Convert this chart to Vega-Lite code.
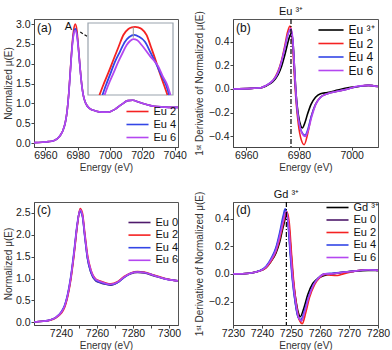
{
"$schema": "https://vega.github.io/schema/vega-lite/v6.json",
"background": "white",
"padding": {"left": 2, "top": 5, "right": 4, "bottom": 2},
"bounds": "flush",
"columns": 2,
"spacing": {"row": 55, "column": 55},
"resolve": {"scale": {"color": "independent"}, "legend": {"color": "independent"}},
"config": {
  "font": "Liberation Sans",
  "view": {"stroke": "#555", "strokeWidth": 1},
  "axis": {"grid": false, "labelFontSize": 10.5, "titleFontSize": 10, "labelColor": "#1a1a1a", "titleColor": "#333", "tickSize": 3, "domainColor": "#444", "tickColor": "#444", "titleFontWeight": "normal", "labelPadding": 1, "titlePadding": 3, "labelOverlap": false, "labelFlush": false},
  "axisX": {"labelPadding": 0, "titlePadding": 1.5},
  "legend": {"symbolType": "M-3,0H3", "symbolStrokeWidth": 2, "labelFontSize": 11, "labelColor": "#111", "padding": 0, "labelOffset": 10.5, "rowPadding": 1, "symbolSize": 54, "orient": "none"},
  "line": {"strokeWidth": 1.6, "interpolate": "monotone"},
  "text": {"font": "Liberation Sans"}
},
"datasets": {
  "a": [
    {"s":"Eu 2","E":6953,"v":0.01},{"s":"Eu 2","E":6958,"v":0.02},{"s":"Eu 2","E":6962,"v":0.035},{"s":"Eu 2","E":6965,"v":0.06},{"s":"Eu 2","E":6967.5,"v":0.11},{"s":"Eu 2","E":6969.5,"v":0.21},{"s":"Eu 2","E":6971,"v":0.33},{"s":"Eu 2","E":6972.5,"v":0.55},{"s":"Eu 2","E":6973.5,"v":0.82},{"s":"Eu 2","E":6974.5,"v":1.27},{"s":"Eu 2","E":6975.5,"v":1.86},{"s":"Eu 2","E":6976.5,"v":2.45},{"s":"Eu 2","E":6977.5,"v":2.85},{"s":"Eu 2","E":6978.5,"v":3.0},{"s":"Eu 2","E":6979.5,"v":2.85},{"s":"Eu 2","E":6980.5,"v":2.4},{"s":"Eu 2","E":6981.5,"v":1.9},{"s":"Eu 2","E":6982.5,"v":1.48},{"s":"Eu 2","E":6983.5,"v":1.2},{"s":"Eu 2","E":6985,"v":1.0},{"s":"Eu 2","E":6987.5,"v":0.87},{"s":"Eu 2","E":6991,"v":0.81},{"s":"Eu 2","E":6995,"v":0.78},{"s":"Eu 2","E":6999,"v":0.78},{"s":"Eu 2","E":7003,"v":0.85},{"s":"Eu 2","E":7007,"v":0.97},{"s":"Eu 2","E":7011,"v":1.07},{"s":"Eu 2","E":7014,"v":1.08},{"s":"Eu 2","E":7018,"v":1.03},{"s":"Eu 2","E":7022,"v":0.98},{"s":"Eu 2","E":7027,"v":0.93},{"s":"Eu 2","E":7033,"v":0.91},{"s":"Eu 2","E":7038,"v":0.9},{"s":"Eu 2","E":7042,"v":0.9},
    {"s":"Eu 4","E":6953,"v":0.01},{"s":"Eu 4","E":6958,"v":0.02},{"s":"Eu 4","E":6962,"v":0.035},{"s":"Eu 4","E":6965,"v":0.06},{"s":"Eu 4","E":6967.5,"v":0.11},{"s":"Eu 4","E":6969.5,"v":0.21},{"s":"Eu 4","E":6971,"v":0.33},{"s":"Eu 4","E":6972.5,"v":0.55},{"s":"Eu 4","E":6973.5,"v":0.82},{"s":"Eu 4","E":6974.5,"v":1.25},{"s":"Eu 4","E":6975.5,"v":1.83},{"s":"Eu 4","E":6976.5,"v":2.4},{"s":"Eu 4","E":6977.5,"v":2.76},{"s":"Eu 4","E":6978.5,"v":2.88},{"s":"Eu 4","E":6979.5,"v":2.75},{"s":"Eu 4","E":6980.5,"v":2.36},{"s":"Eu 4","E":6981.5,"v":1.88},{"s":"Eu 4","E":6982.5,"v":1.47},{"s":"Eu 4","E":6983.5,"v":1.2},{"s":"Eu 4","E":6985,"v":1.0},{"s":"Eu 4","E":6987.5,"v":0.87},{"s":"Eu 4","E":6991,"v":0.81},{"s":"Eu 4","E":6995,"v":0.78},{"s":"Eu 4","E":6999,"v":0.78},{"s":"Eu 4","E":7003,"v":0.85},{"s":"Eu 4","E":7007,"v":0.97},{"s":"Eu 4","E":7011,"v":1.07},{"s":"Eu 4","E":7014,"v":1.08},{"s":"Eu 4","E":7018,"v":1.03},{"s":"Eu 4","E":7022,"v":0.98},{"s":"Eu 4","E":7027,"v":0.93},{"s":"Eu 4","E":7033,"v":0.91},{"s":"Eu 4","E":7038,"v":0.9},{"s":"Eu 4","E":7042,"v":0.9},
    {"s":"Eu 6","E":6953,"v":0.01},{"s":"Eu 6","E":6958,"v":0.02},{"s":"Eu 6","E":6962,"v":0.035},{"s":"Eu 6","E":6965,"v":0.06},{"s":"Eu 6","E":6967.5,"v":0.11},{"s":"Eu 6","E":6969.5,"v":0.21},{"s":"Eu 6","E":6971,"v":0.33},{"s":"Eu 6","E":6972.5,"v":0.55},{"s":"Eu 6","E":6973.5,"v":0.82},{"s":"Eu 6","E":6974.5,"v":1.24},{"s":"Eu 6","E":6975.5,"v":1.82},{"s":"Eu 6","E":6976.5,"v":2.38},{"s":"Eu 6","E":6977.5,"v":2.73},{"s":"Eu 6","E":6978.5,"v":2.84},{"s":"Eu 6","E":6979.5,"v":2.72},{"s":"Eu 6","E":6980.5,"v":2.35},{"s":"Eu 6","E":6981.5,"v":1.88},{"s":"Eu 6","E":6982.5,"v":1.47},{"s":"Eu 6","E":6983.5,"v":1.2},{"s":"Eu 6","E":6985,"v":1.0},{"s":"Eu 6","E":6987.5,"v":0.87},{"s":"Eu 6","E":6991,"v":0.81},{"s":"Eu 6","E":6995,"v":0.78},{"s":"Eu 6","E":6999,"v":0.78},{"s":"Eu 6","E":7003,"v":0.85},{"s":"Eu 6","E":7007,"v":0.97},{"s":"Eu 6","E":7011,"v":1.07},{"s":"Eu 6","E":7014,"v":1.08},{"s":"Eu 6","E":7018,"v":1.03},{"s":"Eu 6","E":7022,"v":0.98},{"s":"Eu 6","E":7027,"v":0.93},{"s":"Eu 6","E":7033,"v":0.91},{"s":"Eu 6","E":7038,"v":0.9},{"s":"Eu 6","E":7042,"v":0.9}
  ],
  "inset": [
    {"s":"Eu 2","ix":13.5,"iy":0},{"s":"Eu 2","ix":18,"iy":13.9},{"s":"Eu 2","ix":24,"iy":31},{"s":"Eu 2","ix":29.8,"iy":48.6},{"s":"Eu 2","ix":36,"iy":67},{"s":"Eu 2","ix":41.6,"iy":83.3},{"s":"Eu 2","ix":47.5,"iy":91.7},{"s":"Eu 2","ix":51.5,"iy":94},{"s":"Eu 2","ix":55.3,"iy":94.6},{"s":"Eu 2","ix":59,"iy":94},{"s":"Eu 2","ix":63.1,"iy":91.7},{"s":"Eu 2","ix":69,"iy":83.3},{"s":"Eu 2","ix":74,"iy":67},{"s":"Eu 2","ix":78.8,"iy":50.9},{"s":"Eu 2","ix":84,"iy":32},{"s":"Eu 2","ix":89.4,"iy":13.9},{"s":"Eu 2","ix":93.5,"iy":0},
    {"s":"Eu 4","ix":17,"iy":0},{"s":"Eu 4","ix":21.2,"iy":13.9},{"s":"Eu 4","ix":26.5,"iy":30},{"s":"Eu 4","ix":31.8,"iy":46.3},{"s":"Eu 4","ix":37.5,"iy":60},{"s":"Eu 4","ix":43.5,"iy":74},{"s":"Eu 4","ix":48.5,"iy":80.5},{"s":"Eu 4","ix":54.5,"iy":83.5},{"s":"Eu 4","ix":60,"iy":81},{"s":"Eu 4","ix":67,"iy":74},{"s":"Eu 4","ix":74,"iy":58},{"s":"Eu 4","ix":80.8,"iy":41.7},{"s":"Eu 4","ix":86,"iy":28},{"s":"Eu 4","ix":91.8,"iy":13.9},{"s":"Eu 4","ix":95.5,"iy":0},
    {"s":"Eu 6","ix":19.5,"iy":0},{"s":"Eu 6","ix":23.9,"iy":13.9},{"s":"Eu 6","ix":29.8,"iy":30},{"s":"Eu 6","ix":35.7,"iy":46.3},{"s":"Eu 6","ix":40.5,"iy":58},{"s":"Eu 6","ix":45.5,"iy":69.4},{"s":"Eu 6","ix":49.5,"iy":75},{"s":"Eu 6","ix":53.3,"iy":77.5},{"s":"Eu 6","ix":58,"iy":76},{"s":"Eu 6","ix":63.1,"iy":69.4},{"s":"Eu 6","ix":73,"iy":54},{"s":"Eu 6","ix":82.8,"iy":39.4},{"s":"Eu 6","ix":88,"iy":26},{"s":"Eu 6","ix":93.3,"iy":13.9},{"s":"Eu 6","ix":97,"iy":0}
  ],
  "b": [
    {"s":"Eu ³⁺","E":6955,"v":0},{"s":"Eu ³⁺","E":6962,"v":0.005},{"s":"Eu ³⁺","E":6965.6,"v":0.01},{"s":"Eu ³⁺","E":6967.6,"v":0.025},{"s":"Eu ³⁺","E":6970.1,"v":0.06},{"s":"Eu ³⁺","E":6972.1,"v":0.12},{"s":"Eu ³⁺","E":6973.4,"v":0.19},{"s":"Eu ³⁺","E":6974.7,"v":0.29},{"s":"Eu ³⁺","E":6975.7,"v":0.38},{"s":"Eu ³⁺","E":6976.6,"v":0.45},{"s":"Eu ³⁺","E":6977.2,"v":0.47},{"s":"Eu ³⁺","E":6977.8,"v":0.38},{"s":"Eu ³⁺","E":6978.4,"v":0.15},{"s":"Eu ³⁺","E":6979,"v":-0.06},{"s":"Eu ³⁺","E":6979.8,"v":-0.22},{"s":"Eu ³⁺","E":6980.7,"v":-0.31},{"s":"Eu ³⁺","E":6981.3,"v":-0.33},{"s":"Eu ³⁺","E":6982.2,"v":-0.29},{"s":"Eu ³⁺","E":6983.3,"v":-0.21},{"s":"Eu ³⁺","E":6984.6,"v":-0.13},{"s":"Eu ³⁺","E":6986.3,"v":-0.07},{"s":"Eu ³⁺","E":6988.2,"v":-0.04},{"s":"Eu ³⁺","E":6990.8,"v":-0.03},{"s":"Eu ³⁺","E":6994.7,"v":-0.01},{"s":"Eu ³⁺","E":6998.6,"v":0.01},{"s":"Eu ³⁺","E":7002.5,"v":0.02},{"s":"Eu ³⁺","E":7006.3,"v":0.03},{"s":"Eu ³⁺","E":7010,"v":0.02},
    {"s":"Eu 2","E":6955,"v":0},{"s":"Eu 2","E":6962,"v":0.005},{"s":"Eu 2","E":6965.6,"v":0.01},{"s":"Eu 2","E":6967.6,"v":0.03},{"s":"Eu 2","E":6970.1,"v":0.07},{"s":"Eu 2","E":6972.1,"v":0.15},{"s":"Eu 2","E":6973.4,"v":0.24},{"s":"Eu 2","E":6974.7,"v":0.37},{"s":"Eu 2","E":6975.7,"v":0.48},{"s":"Eu 2","E":6976.6,"v":0.53},{"s":"Eu 2","E":6977.3,"v":0.46},{"s":"Eu 2","E":6977.8,"v":0.3},{"s":"Eu 2","E":6978.3,"v":0.1},{"s":"Eu 2","E":6978.9,"v":-0.1},{"s":"Eu 2","E":6979.8,"v":-0.3},{"s":"Eu 2","E":6980.9,"v":-0.43},{"s":"Eu 2","E":6982,"v":-0.47},{"s":"Eu 2","E":6983.3,"v":-0.38},{"s":"Eu 2","E":6984.6,"v":-0.24},{"s":"Eu 2","E":6986.3,"v":-0.13},{"s":"Eu 2","E":6988.2,"v":-0.07},{"s":"Eu 2","E":6990.8,"v":-0.04},{"s":"Eu 2","E":6994.7,"v":-0.02},{"s":"Eu 2","E":6998.6,"v":0},{"s":"Eu 2","E":7002.5,"v":0.02},{"s":"Eu 2","E":7006.3,"v":0.03},{"s":"Eu 2","E":7010,"v":0.02},
    {"s":"Eu 4","E":6955,"v":0},{"s":"Eu 4","E":6962,"v":0.005},{"s":"Eu 4","E":6965.6,"v":0.01},{"s":"Eu 4","E":6967.6,"v":0.03},{"s":"Eu 4","E":6970.1,"v":0.07},{"s":"Eu 4","E":6972.1,"v":0.14},{"s":"Eu 4","E":6973.4,"v":0.23},{"s":"Eu 4","E":6974.7,"v":0.35},{"s":"Eu 4","E":6975.7,"v":0.45},{"s":"Eu 4","E":6976.8,"v":0.5},{"s":"Eu 4","E":6977.5,"v":0.44},{"s":"Eu 4","E":6978,"v":0.28},{"s":"Eu 4","E":6978.5,"v":0.08},{"s":"Eu 4","E":6979.1,"v":-0.12},{"s":"Eu 4","E":6980,"v":-0.28},{"s":"Eu 4","E":6981,"v":-0.36},{"s":"Eu 4","E":6982.3,"v":-0.39},{"s":"Eu 4","E":6983.4,"v":-0.34},{"s":"Eu 4","E":6984.7,"v":-0.23},{"s":"Eu 4","E":6986.3,"v":-0.13},{"s":"Eu 4","E":6988.2,"v":-0.07},{"s":"Eu 4","E":6990.8,"v":-0.04},{"s":"Eu 4","E":6994.7,"v":-0.02},{"s":"Eu 4","E":6998.6,"v":0},{"s":"Eu 4","E":7002.5,"v":0.02},{"s":"Eu 4","E":7006.3,"v":0.03},{"s":"Eu 4","E":7010,"v":0.02},
    {"s":"Eu 6","E":6955,"v":0},{"s":"Eu 6","E":6962,"v":0.005},{"s":"Eu 6","E":6965.6,"v":0.01},{"s":"Eu 6","E":6967.6,"v":0.03},{"s":"Eu 6","E":6970.1,"v":0.07},{"s":"Eu 6","E":6972.1,"v":0.14},{"s":"Eu 6","E":6973.4,"v":0.23},{"s":"Eu 6","E":6974.7,"v":0.35},{"s":"Eu 6","E":6975.7,"v":0.45},{"s":"Eu 6","E":6976.9,"v":0.51},{"s":"Eu 6","E":6977.6,"v":0.44},{"s":"Eu 6","E":6978.1,"v":0.27},{"s":"Eu 6","E":6978.6,"v":0.07},{"s":"Eu 6","E":6979.2,"v":-0.13},{"s":"Eu 6","E":6980.1,"v":-0.29},{"s":"Eu 6","E":6981.1,"v":-0.37},{"s":"Eu 6","E":6982.4,"v":-0.4},{"s":"Eu 6","E":6983.5,"v":-0.35},{"s":"Eu 6","E":6984.8,"v":-0.24},{"s":"Eu 6","E":6986.4,"v":-0.13},{"s":"Eu 6","E":6988.3,"v":-0.07},{"s":"Eu 6","E":6990.8,"v":-0.04},{"s":"Eu 6","E":6994.7,"v":-0.02},{"s":"Eu 6","E":6998.6,"v":0},{"s":"Eu 6","E":7002.5,"v":0.025},{"s":"Eu 6","E":7006.3,"v":0.03},{"s":"Eu 6","E":7010,"v":0.02}
  ],
  "c": [
    {"s":"Eu 0","E":7225,"v":0.01},{"s":"Eu 0","E":7230,"v":0.025},{"s":"Eu 0","E":7234,"v":0.055},{"s":"Eu 0","E":7237,"v":0.11},{"s":"Eu 0","E":7240,"v":0.22},{"s":"Eu 0","E":7242,"v":0.37},{"s":"Eu 0","E":7243.5,"v":0.58},{"s":"Eu 0","E":7245.4,"v":1.0},{"s":"Eu 0","E":7247.3,"v":1.6},{"s":"Eu 0","E":7249.1,"v":2.24},{"s":"Eu 0","E":7250.6,"v":2.56},{"s":"Eu 0","E":7251.9,"v":2.44},{"s":"Eu 0","E":7253.2,"v":1.98},{"s":"Eu 0","E":7254.7,"v":1.47},{"s":"Eu 0","E":7256.6,"v":1.14},{"s":"Eu 0","E":7259.3,"v":0.95},{"s":"Eu 0","E":7262.1,"v":0.9},{"s":"Eu 0","E":7264.9,"v":0.87},{"s":"Eu 0","E":7267.7,"v":0.85},{"s":"Eu 0","E":7271.4,"v":0.91},{"s":"Eu 0","E":7275.1,"v":1.03},{"s":"Eu 0","E":7278.8,"v":1.11},{"s":"Eu 0","E":7282.5,"v":1.14},{"s":"Eu 0","E":7286.2,"v":1.13},{"s":"Eu 0","E":7291.7,"v":1.06},{"s":"Eu 0","E":7297.3,"v":1.0},{"s":"Eu 0","E":7302.9,"v":0.96},{"s":"Eu 0","E":7305,"v":0.95},
    {"s":"Eu 2","E":7225,"v":0.01},{"s":"Eu 2","E":7230,"v":0.025},{"s":"Eu 2","E":7234,"v":0.05},{"s":"Eu 2","E":7237,"v":0.1},{"s":"Eu 2","E":7240,"v":0.2},{"s":"Eu 2","E":7242,"v":0.34},{"s":"Eu 2","E":7243.5,"v":0.55},{"s":"Eu 2","E":7245.4,"v":0.96},{"s":"Eu 2","E":7247.3,"v":1.56},{"s":"Eu 2","E":7249.1,"v":2.22},{"s":"Eu 2","E":7250.6,"v":2.6},{"s":"Eu 2","E":7251.9,"v":2.5},{"s":"Eu 2","E":7253.2,"v":2.05},{"s":"Eu 2","E":7254.7,"v":1.55},{"s":"Eu 2","E":7256.6,"v":1.2},{"s":"Eu 2","E":7259.3,"v":0.99},{"s":"Eu 2","E":7262.1,"v":0.94},{"s":"Eu 2","E":7264.9,"v":0.9},{"s":"Eu 2","E":7267.7,"v":0.88},{"s":"Eu 2","E":7271.4,"v":0.93},{"s":"Eu 2","E":7275.1,"v":1.05},{"s":"Eu 2","E":7278.8,"v":1.13},{"s":"Eu 2","E":7282.5,"v":1.16},{"s":"Eu 2","E":7286.2,"v":1.15},{"s":"Eu 2","E":7291.7,"v":1.08},{"s":"Eu 2","E":7297.3,"v":1.01},{"s":"Eu 2","E":7302.9,"v":0.96},{"s":"Eu 2","E":7305,"v":0.95},
    {"s":"Eu 4","E":7225,"v":0.01},{"s":"Eu 4","E":7230,"v":0.025},{"s":"Eu 4","E":7234,"v":0.055},{"s":"Eu 4","E":7237,"v":0.11},{"s":"Eu 4","E":7240,"v":0.23},{"s":"Eu 4","E":7242,"v":0.39},{"s":"Eu 4","E":7243.5,"v":0.61},{"s":"Eu 4","E":7245.4,"v":1.04},{"s":"Eu 4","E":7247.3,"v":1.65},{"s":"Eu 4","E":7249.1,"v":2.28},{"s":"Eu 4","E":7250.4,"v":2.54},{"s":"Eu 4","E":7251.9,"v":2.42},{"s":"Eu 4","E":7253.2,"v":1.96},{"s":"Eu 4","E":7254.7,"v":1.46},{"s":"Eu 4","E":7256.6,"v":1.15},{"s":"Eu 4","E":7259.3,"v":0.96},{"s":"Eu 4","E":7262.1,"v":0.91},{"s":"Eu 4","E":7264.9,"v":0.88},{"s":"Eu 4","E":7267.7,"v":0.86},{"s":"Eu 4","E":7271.4,"v":0.91},{"s":"Eu 4","E":7275.1,"v":1.03},{"s":"Eu 4","E":7278.8,"v":1.12},{"s":"Eu 4","E":7282.5,"v":1.15},{"s":"Eu 4","E":7286.2,"v":1.14},{"s":"Eu 4","E":7291.7,"v":1.07},{"s":"Eu 4","E":7297.3,"v":1.0},{"s":"Eu 4","E":7302.9,"v":0.96},{"s":"Eu 4","E":7305,"v":0.95},
    {"s":"Eu 6","E":7225,"v":0.01},{"s":"Eu 6","E":7230,"v":0.025},{"s":"Eu 6","E":7234,"v":0.055},{"s":"Eu 6","E":7237,"v":0.11},{"s":"Eu 6","E":7240,"v":0.22},{"s":"Eu 6","E":7242,"v":0.37},{"s":"Eu 6","E":7243.5,"v":0.58},{"s":"Eu 6","E":7245.4,"v":1.0},{"s":"Eu 6","E":7247.3,"v":1.6},{"s":"Eu 6","E":7249.1,"v":2.25},{"s":"Eu 6","E":7250.6,"v":2.57},{"s":"Eu 6","E":7251.9,"v":2.46},{"s":"Eu 6","E":7253.2,"v":2.01},{"s":"Eu 6","E":7254.7,"v":1.52},{"s":"Eu 6","E":7256.6,"v":1.19},{"s":"Eu 6","E":7259.3,"v":0.98},{"s":"Eu 6","E":7262.1,"v":0.93},{"s":"Eu 6","E":7264.9,"v":0.89},{"s":"Eu 6","E":7267.7,"v":0.87},{"s":"Eu 6","E":7271.4,"v":0.92},{"s":"Eu 6","E":7275.1,"v":1.04},{"s":"Eu 6","E":7278.8,"v":1.12},{"s":"Eu 6","E":7282.5,"v":1.15},{"s":"Eu 6","E":7286.2,"v":1.14},{"s":"Eu 6","E":7291.7,"v":1.07},{"s":"Eu 6","E":7297.3,"v":1.0},{"s":"Eu 6","E":7302.9,"v":0.96},{"s":"Eu 6","E":7305,"v":0.95}
  ],
  "d": [
    {"s":"Gd ³⁺","E":7230,"v":0},{"s":"Gd ³⁺","E":7235.7,"v":0.005},{"s":"Gd ³⁺","E":7239.1,"v":0.02},{"s":"Gd ³⁺","E":7241.4,"v":0.045},{"s":"Gd ³⁺","E":7243.1,"v":0.09},{"s":"Gd ³⁺","E":7244.8,"v":0.15},{"s":"Gd ³⁺","E":7246.1,"v":0.23},{"s":"Gd ³⁺","E":7247.3,"v":0.34},{"s":"Gd ³⁺","E":7248.5,"v":0.42},{"s":"Gd ³⁺","E":7249.3,"v":0.34},{"s":"Gd ³⁺","E":7250.1,"v":0.13},{"s":"Gd ³⁺","E":7250.8,"v":-0.05},{"s":"Gd ³⁺","E":7251.6,"v":-0.18},{"s":"Gd ³⁺","E":7252.5,"v":-0.28},{"s":"Gd ³⁺","E":7253.2,"v":-0.31},{"s":"Gd ³⁺","E":7254.4,"v":-0.25},{"s":"Gd ³⁺","E":7255.8,"v":-0.15},{"s":"Gd ³⁺","E":7257.5,"v":-0.07},{"s":"Gd ³⁺","E":7259.5,"v":-0.03},{"s":"Gd ³⁺","E":7261.8,"v":-0.01},{"s":"Gd ³⁺","E":7264.1,"v":0},{"s":"Gd ³⁺","E":7267.5,"v":0.01},{"s":"Gd ³⁺","E":7272,"v":0.02},{"s":"Gd ³⁺","E":7276.6,"v":0.025},{"s":"Gd ³⁺","E":7280,"v":0.025},
    {"s":"Eu 0","E":7230,"v":0},{"s":"Eu 0","E":7235.7,"v":0.005},{"s":"Eu 0","E":7239.1,"v":0.02},{"s":"Eu 0","E":7241.4,"v":0.05},{"s":"Eu 0","E":7243.1,"v":0.1},{"s":"Eu 0","E":7244.8,"v":0.18},{"s":"Eu 0","E":7246.1,"v":0.28},{"s":"Eu 0","E":7247.3,"v":0.4},{"s":"Eu 0","E":7248.1,"v":0.46},{"s":"Eu 0","E":7249,"v":0.37},{"s":"Eu 0","E":7249.8,"v":0.15},{"s":"Eu 0","E":7250.6,"v":-0.05},{"s":"Eu 0","E":7251.5,"v":-0.21},{"s":"Eu 0","E":7252.6,"v":-0.32},{"s":"Eu 0","E":7253.5,"v":-0.34},{"s":"Eu 0","E":7254.7,"v":-0.27},{"s":"Eu 0","E":7256.1,"v":-0.17},{"s":"Eu 0","E":7257.8,"v":-0.08},{"s":"Eu 0","E":7259.5,"v":-0.03},{"s":"Eu 0","E":7261.8,"v":0},{"s":"Eu 0","E":7264.1,"v":0},{"s":"Eu 0","E":7267.5,"v":0.01},{"s":"Eu 0","E":7272,"v":0.02},{"s":"Eu 0","E":7276.6,"v":0.03},{"s":"Eu 0","E":7280,"v":0.025},
    {"s":"Eu 2","E":7230,"v":0},{"s":"Eu 2","E":7235.7,"v":0.005},{"s":"Eu 2","E":7239.1,"v":0.02},{"s":"Eu 2","E":7241.4,"v":0.045},{"s":"Eu 2","E":7243.1,"v":0.09},{"s":"Eu 2","E":7244.8,"v":0.16},{"s":"Eu 2","E":7246.1,"v":0.25},{"s":"Eu 2","E":7247.3,"v":0.36},{"s":"Eu 2","E":7248.5,"v":0.45},{"s":"Eu 2","E":7249.4,"v":0.37},{"s":"Eu 2","E":7250.2,"v":0.14},{"s":"Eu 2","E":7251,"v":-0.07},{"s":"Eu 2","E":7251.9,"v":-0.23},{"s":"Eu 2","E":7253,"v":-0.34},{"s":"Eu 2","E":7253.9,"v":-0.36},{"s":"Eu 2","E":7255.1,"v":-0.28},{"s":"Eu 2","E":7256.4,"v":-0.17},{"s":"Eu 2","E":7258.1,"v":-0.08},{"s":"Eu 2","E":7259.8,"v":-0.03},{"s":"Eu 2","E":7262,"v":-0.005},{"s":"Eu 2","E":7264,"v":-0.01},{"s":"Eu 2","E":7266,"v":-0.012},{"s":"Eu 2","E":7268,"v":0},{"s":"Eu 2","E":7272,"v":0.02},{"s":"Eu 2","E":7276.6,"v":0.03},{"s":"Eu 2","E":7280,"v":0.025},
    {"s":"Eu 4","E":7230,"v":0},{"s":"Eu 4","E":7235.7,"v":0.005},{"s":"Eu 4","E":7239.1,"v":0.022},{"s":"Eu 4","E":7241.4,"v":0.055},{"s":"Eu 4","E":7243.1,"v":0.11},{"s":"Eu 4","E":7244.8,"v":0.19},{"s":"Eu 4","E":7246.1,"v":0.3},{"s":"Eu 4","E":7247.3,"v":0.42},{"s":"Eu 4","E":7248,"v":0.47},{"s":"Eu 4","E":7248.9,"v":0.38},{"s":"Eu 4","E":7249.7,"v":0.15},{"s":"Eu 4","E":7250.5,"v":-0.05},{"s":"Eu 4","E":7251.4,"v":-0.2},{"s":"Eu 4","E":7252.4,"v":-0.31},{"s":"Eu 4","E":7253.4,"v":-0.33},{"s":"Eu 4","E":7254.6,"v":-0.27},{"s":"Eu 4","E":7256,"v":-0.17},{"s":"Eu 4","E":7257.7,"v":-0.08},{"s":"Eu 4","E":7259.4,"v":-0.03},{"s":"Eu 4","E":7261.8,"v":0},{"s":"Eu 4","E":7264.1,"v":0.005},{"s":"Eu 4","E":7267.5,"v":0.012},{"s":"Eu 4","E":7272,"v":0.02},{"s":"Eu 4","E":7276.6,"v":0.03},{"s":"Eu 4","E":7280,"v":0.025},
    {"s":"Eu 6","E":7230,"v":0},{"s":"Eu 6","E":7235.7,"v":0.005},{"s":"Eu 6","E":7239.1,"v":0.02},{"s":"Eu 6","E":7241.4,"v":0.05},{"s":"Eu 6","E":7243.1,"v":0.1},{"s":"Eu 6","E":7244.8,"v":0.17},{"s":"Eu 6","E":7246.1,"v":0.27},{"s":"Eu 6","E":7247.3,"v":0.38},{"s":"Eu 6","E":7248.2,"v":0.45},{"s":"Eu 6","E":7249.1,"v":0.37},{"s":"Eu 6","E":7249.9,"v":0.15},{"s":"Eu 6","E":7250.7,"v":-0.05},{"s":"Eu 6","E":7251.6,"v":-0.2},{"s":"Eu 6","E":7252.7,"v":-0.32},{"s":"Eu 6","E":7253.6,"v":-0.34},{"s":"Eu 6","E":7254.8,"v":-0.27},{"s":"Eu 6","E":7256.1,"v":-0.17},{"s":"Eu 6","E":7257.8,"v":-0.08},{"s":"Eu 6","E":7259.5,"v":-0.03},{"s":"Eu 6","E":7261.8,"v":0},{"s":"Eu 6","E":7264.1,"v":0},{"s":"Eu 6","E":7267.5,"v":0.01},{"s":"Eu 6","E":7272,"v":0.02},{"s":"Eu 6","E":7276.6,"v":0.03},{"s":"Eu 6","E":7280,"v":0.025}
  ]
},
"concat": [
  {
    "width": 144, "height": 128,
    "layer": [
      {"layer": [
        {"data": {"name": "a"}, "mark": {"type": "line", "clip": true},
         "encoding": {
           "x": {"field": "E", "type": "quantitative", "scale": {"domain": [6953, 7042], "nice": false, "zero": false}, "axis": {"values": [6960, 6980, 7000, 7020, 7040], "tickCount": 20, "format": "d", "title": "Energy (eV)", "labelOverlap": false, "labelFlush": false}},
           "y": {"field": "v", "type": "quantitative", "scale": {"domain": [-0.1, 3.13], "nice": false, "zero": false}, "axis": {"values": [0, 0.5, 1, 1.5, 2, 2.5, 3], "tickCount": 20, "format": ".1f", "title": "Normalized μ(E)", "titlePadding": 2, "labelOverlap": false, "labelFlush": false}},
           "color": {"field": "s", "type": "nominal", "scale": {"domain": ["Eu 2", "Eu 4", "Eu 6"], "range": ["#f52222", "#3346e6", "#b447f0"]}, "legend": {"title": null, "legendX": 98, "legendY": 87}}
         }},
        {"data": {"values": [{"E": 6953, "v": 3.13, "t": "(a)"}]}, "mark": {"type": "text", "align": "left", "baseline": "top", "dx": 3, "dy": 4, "fontSize": 12, "color": "#111"},
         "encoding": {"x": {"field": "E", "type": "quantitative"}, "y": {"field": "v", "type": "quantitative"}, "text": {"field": "t"}}},
        {"data": {"values": [{"E": 6974.3, "v": 2.92, "t": "A"}]}, "mark": {"type": "text", "align": "center", "baseline": "middle", "fontSize": 11, "color": "#111"},
         "encoding": {"x": {"field": "E", "type": "quantitative"}, "y": {"field": "v", "type": "quantitative"}, "text": {"field": "t"}}},
        {"data": {"values": [{"E": 6981.6, "v": 2.8, "E2": 6995.8, "v2": 2.44}]}, "mark": {"type": "rule", "strokeDash": [3, 2], "strokeWidth": 1.2, "color": "#111"},
         "encoding": {"x": {"field": "E", "type": "quantitative"}, "y": {"field": "v", "type": "quantitative"}, "x2": {"field": "E2"}, "y2": {"field": "v2"}}},
        {"data": {"values": [{"E": 6996.4, "v": 2.42}]}, "mark": {"type": "point", "shape": "triangle-right", "angle": 33, "filled": true, "size": 35, "color": "#111", "opacity": 1},
         "encoding": {"x": {"field": "E", "type": "quantitative"}, "y": {"field": "v", "type": "quantitative"}}}
      ]},
      {"layer": [
        {"data": {"values": [{"ix": 0, "iy": 0, "ix2": 100, "iy2": 100}]}, "mark": {"type": "rect", "fill": "white", "stroke": "#9aa3ad", "strokeWidth": 1.2},
         "encoding": {
           "x": {"field": "ix", "type": "quantitative", "scale": {"domain": [0, 100], "range": [54, 139], "nice": false, "zero": false}, "axis": null},
           "y": {"field": "iy", "type": "quantitative", "scale": {"domain": [0, 100], "range": [76, 4], "nice": false, "zero": false}, "axis": null},
           "x2": {"field": "ix2"}, "y2": {"field": "iy2"}
         }},
        {"data": {"name": "inset"}, "mark": {"type": "line", "strokeWidth": 1.8},
         "encoding": {
           "x": {"field": "ix", "type": "quantitative"},
           "y": {"field": "iy", "type": "quantitative"},
           "color": {"field": "s", "type": "nominal", "scale": {"domain": ["Eu 2", "Eu 4", "Eu 6"], "range": ["#f52222", "#3346e6", "#b447f0"]}, "legend": {"title": null, "legendX": 98, "legendY": 87}}
         }},
        {"data": {"values": [{"ix": 53.3, "iy": 79.6, "iy2": 94.4}]}, "mark": {"type": "rule", "color": "#999", "strokeWidth": 1},
         "encoding": {"x": {"field": "ix", "type": "quantitative"}, "y": {"field": "iy", "type": "quantitative"}, "y2": {"field": "iy2"}}}
      ]}
    ],
    "resolve": {"scale": {"x": "independent", "y": "independent"}}
  },
  {
    "width": 145, "height": 128,
    "layer": [
      {"data": {"name": "b"}, "mark": {"type": "line", "clip": true},
       "encoding": {
         "x": {"field": "E", "type": "quantitative", "scale": {"domain": [6955, 7010], "nice": false, "zero": false}, "axis": {"values": [6960, 6980, 7000], "tickCount": 20, "format": "d", "title": "Energy (eV)", "labelOverlap": false, "labelFlush": false}},
         "y": {"field": "v", "type": "quantitative", "scale": {"domain": [-0.49, 0.59], "nice": false, "zero": false}, "axis": {"values": [-0.4, -0.2, 0, 0.2, 0.4], "tickCount": 20, "format": ".1f", "title": "1ˢᵗ Derivative of Normalized μ(E)", "titlePadding": 4, "labelOverlap": false, "labelFlush": false}},
         "color": {"field": "s", "type": "nominal", "scale": {"domain": ["Eu ³⁺", "Eu 2", "Eu 4", "Eu 6"], "range": ["#000000", "#f52222", "#3346e6", "#b447f0"]}, "legend": {"title": null, "legendX": 92, "legendY": 5, "symbolSize": 70, "labelOffset": 11.5, "labelFontSize": 12, "rowPadding": 1.5}}
       }},
      {"data": {"values": [{"E": 6977}]}, "mark": {"type": "rule", "strokeDash": [5, 2, 1, 2], "strokeWidth": 1.2, "color": "#000"},
       "encoding": {"x": {"field": "E", "type": "quantitative"}}},
      {"data": {"values": [{"E": 6977, "v": 0.59, "t": "Eu ³⁺"}]}, "mark": {"type": "text", "align": "center", "baseline": "bottom", "dy": -2, "fontSize": 11, "color": "#111"},
       "encoding": {"x": {"field": "E", "type": "quantitative"}, "y": {"field": "v", "type": "quantitative"}, "text": {"field": "t"}}},
      {"data": {"values": [{"E": 6955, "v": 0.59, "t": "(b)"}]}, "mark": {"type": "text", "align": "left", "baseline": "top", "dx": 3, "dy": 4, "fontSize": 12, "color": "#111"},
       "encoding": {"x": {"field": "E", "type": "quantitative"}, "y": {"field": "v", "type": "quantitative"}, "text": {"field": "t"}}}
    ]
  },
  {
    "width": 144, "height": 123,
    "layer": [
      {"data": {"name": "c"}, "mark": {"type": "line", "clip": true},
       "encoding": {
         "x": {"field": "E", "type": "quantitative", "scale": {"domain": [7225, 7305], "nice": false, "zero": false}, "axis": {"values": [7240, 7250, 7260, 7270, 7280, 7290, 7300], "labelExpr": "datum.value % 20 == 0 ? datum.label : ''", "tickCount": 20, "format": "d", "title": "Energy (eV)", "labelOverlap": false, "labelFlush": false}},
         "y": {"field": "v", "type": "quantitative", "scale": {"domain": [-0.06, 2.75], "nice": false, "zero": false}, "axis": {"values": [0, 0.5, 1, 1.5, 2, 2.5], "tickCount": 20, "format": ".1f", "title": "Normalized μ(E)", "titlePadding": 2, "labelOverlap": false, "labelFlush": false}},
         "color": {"field": "s", "type": "nominal", "scale": {"domain": ["Eu 0", "Eu 2", "Eu 4", "Eu 6"], "range": ["#4e1a6b", "#f52222", "#3346e6", "#b447f0"]}, "legend": {"title": null, "legendX": 100, "legendY": 15, "rowPadding": 0.6}}
       }},
      {"data": {"values": [{"E": 7225, "v": 2.75, "t": "(c)"}]}, "mark": {"type": "text", "align": "left", "baseline": "top", "dx": 3, "dy": 3, "fontSize": 12, "color": "#111"},
       "encoding": {"x": {"field": "E", "type": "quantitative"}, "y": {"field": "v", "type": "quantitative"}, "text": {"field": "t"}}}
    ]
  },
  {
    "width": 145, "height": 123,
    "layer": [
      {"data": {"name": "d"}, "mark": {"type": "line", "clip": true},
       "encoding": {
         "x": {"field": "E", "type": "quantitative", "scale": {"domain": [7230, 7280], "nice": false, "zero": false}, "axis": {"values": [7230, 7240, 7250, 7260, 7270, 7280], "tickCount": 20, "format": "d", "title": "Energy (eV)", "labelOverlap": false, "labelFlush": false}},
         "y": {"field": "v", "type": "quantitative", "scale": {"domain": [-0.37, 0.52], "nice": false, "zero": false}, "axis": {"values": [-0.2, 0, 0.2, 0.4], "tickCount": 20, "format": ".1f", "title": "1ˢᵗ Derivative of Normalized μ(E)", "titlePadding": 4, "labelOverlap": false, "labelFlush": false}},
         "color": {"field": "s", "type": "nominal", "scale": {"domain": ["Gd ³⁺", "Eu 0", "Eu 2", "Eu 4", "Eu 6"], "range": ["#000000", "#4e1a6b", "#f52222", "#3346e6", "#b447f0"]}, "legend": {"title": null, "legendX": 99, "legendY": 0, "rowPadding": 0.5}}
       }},
      {"data": {"values": [{"E": 7248.4}]}, "mark": {"type": "rule", "strokeDash": [5, 2, 1, 2], "strokeWidth": 1.2, "color": "#000"},
       "encoding": {"x": {"field": "E", "type": "quantitative"}}},
      {"data": {"values": [{"E": 7248.4, "v": 0.52, "t": "Gd ³⁺"}]}, "mark": {"type": "text", "align": "center", "baseline": "bottom", "dy": -2, "fontSize": 11, "color": "#111"},
       "encoding": {"x": {"field": "E", "type": "quantitative"}, "y": {"field": "v", "type": "quantitative"}, "text": {"field": "t"}}},
      {"data": {"values": [{"E": 7230, "v": 0.52, "t": "(d)"}]}, "mark": {"type": "text", "align": "left", "baseline": "top", "dx": 3, "dy": 3, "fontSize": 12, "color": "#111"},
       "encoding": {"x": {"field": "E", "type": "quantitative"}, "y": {"field": "v", "type": "quantitative"}, "text": {"field": "t"}}}
    ]
  }
]
}
